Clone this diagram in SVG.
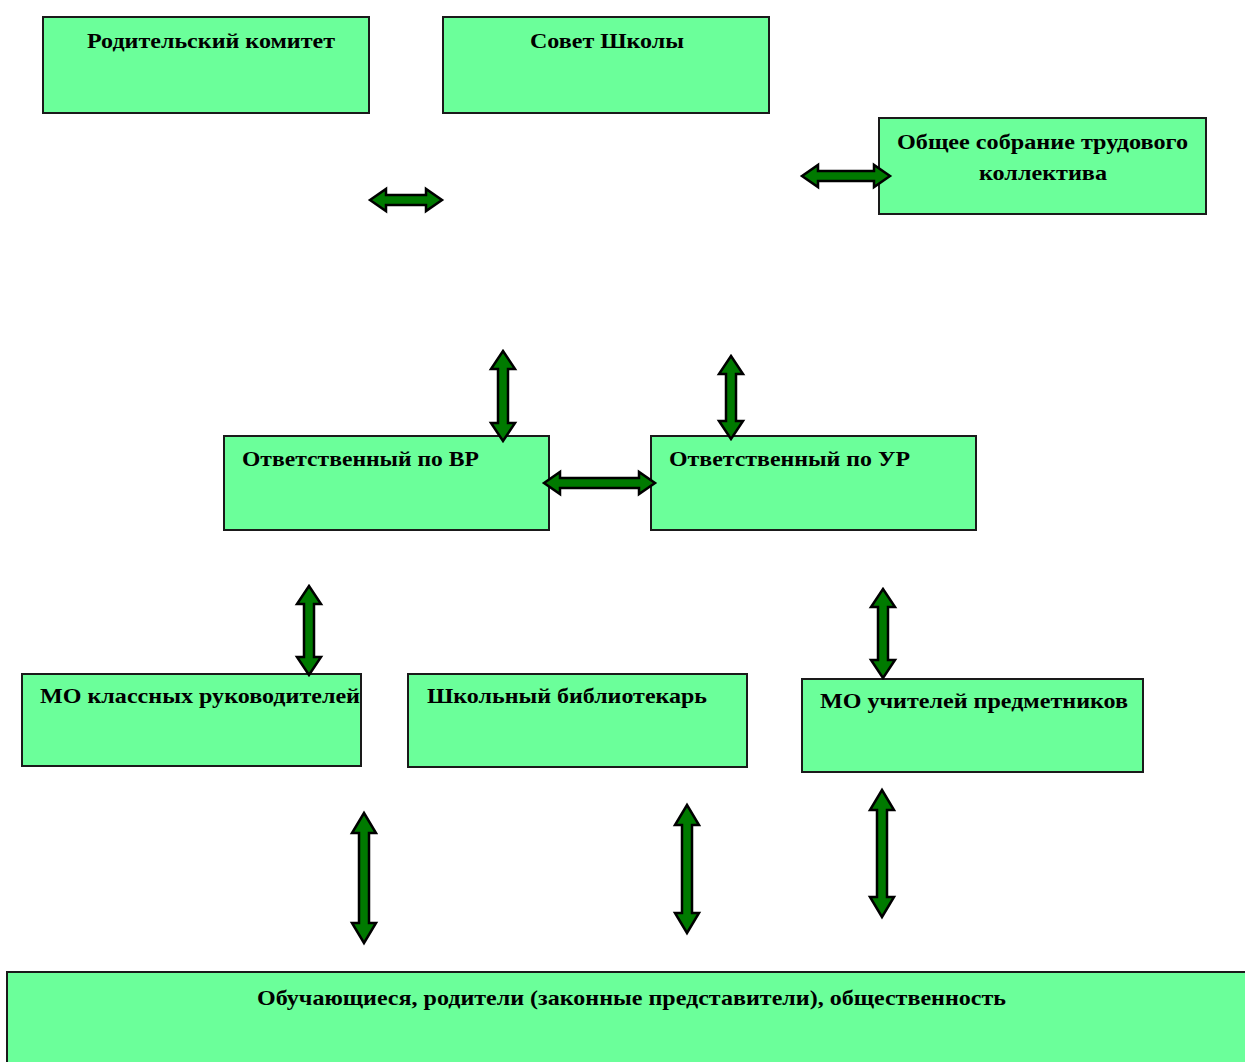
<svg xmlns="http://www.w3.org/2000/svg" width="1245" height="1062" viewBox="0 0 1245 1062">
<style>
.box{fill:#6BFF9A;stroke:#1a1a1a;stroke-width:2}
.t{font-family:"Liberation Serif","Times New Roman",serif;font-weight:bold;font-size:21px;fill:#000}
.c{text-anchor:middle}
.ar{fill:#007A00;stroke:#000;stroke-width:2.5;stroke-linejoin:miter}
</style>
<rect width="1245" height="1062" fill="#fff"/>
<g id="node-roditelsky">
<rect class="box" x="43" y="17" width="326" height="96"/>
<text class="t" x="87" y="48" textLength="248" lengthAdjust="spacingAndGlyphs">Родительский комитет</text>
</g>
<g id="node-sovet">
<rect class="box" x="443" y="17" width="326" height="96"/>
<text class="t" x="530" y="48" textLength="154" lengthAdjust="spacingAndGlyphs">Совет Школы</text>
</g>
<g id="node-sobranie">
<rect class="box" x="879" y="118" width="327" height="96"/>
<text class="t" x="897" y="149" textLength="291" lengthAdjust="spacingAndGlyphs">Общее собрание трудового</text>
<text class="t" x="979" y="180" textLength="128" lengthAdjust="spacingAndGlyphs">коллектива</text>
</g>
<g id="node-vr">
<rect class="box" x="224" y="436" width="325" height="94"/>
<text class="t" x="242" y="466" textLength="237" lengthAdjust="spacingAndGlyphs">Ответственный по ВР</text>
</g>
<g id="node-ur">
<rect class="box" x="651" y="436" width="325" height="94"/>
<text class="t" x="669" y="466" textLength="241" lengthAdjust="spacingAndGlyphs">Ответственный по УР</text>
</g>
<g id="node-mo-kl">
<rect class="box" x="22" y="674" width="339" height="92"/>
<text class="t" x="40" y="703" textLength="320" lengthAdjust="spacingAndGlyphs">МО классных руководителей</text>
</g>
<g id="node-bibl">
<rect class="box" x="408" y="674" width="339" height="93"/>
<text class="t" x="427" y="703" textLength="280" lengthAdjust="spacingAndGlyphs">Школьный библиотекарь</text>
</g>
<g id="node-mo-uch">
<rect class="box" x="802" y="679" width="341" height="93"/>
<text class="t" x="820" y="708" textLength="308" lengthAdjust="spacingAndGlyphs">МО учителей предметников</text>
</g>
<g id="node-obuch">
<rect class="box" x="7" y="972" width="1245" height="100"/>
<text class="t" x="257" y="1005" textLength="749" lengthAdjust="spacingAndGlyphs">Обучающиеся, родители (законные представители), общественность</text>
</g>
<g id="connectors">
<path class="ar" d="M370,200 L386,189 L386,195 L426,195 L426,189 L442,200 L426,211 L426,205 L386,205 L386,211 Z"/>
<path class="ar" d="M802,176 L818,165 L818,171 L874,171 L874,165 L890,176 L874,187 L874,181 L818,181 L818,187 Z"/>
<path class="ar" d="M544,483 L560,472 L560,478 L639,478 L639,472 L655,483 L639,494 L639,488 L560,488 L560,494 Z"/>
<path class="ar" d="M503,351 L515,369 L508,369 L508,423 L515,423 L503,441 L491,423 L498,423 L498,369 L491,369 Z"/>
<path class="ar" d="M731,356 L743,374 L736,374 L736,421 L743,421 L731,439 L719,421 L726,421 L726,374 L719,374 Z"/>
<path class="ar" d="M309,586 L321,604 L314,604 L314,657 L321,657 L309,675 L297,657 L304,657 L304,604 L297,604 Z"/>
<path class="ar" d="M883,589 L895,607 L888,607 L888,660 L895,660 L883,678 L871,660 L878,660 L878,607 L871,607 Z"/>
<path class="ar" d="M364,813 L376,833 L369,833 L369,923 L376,923 L364,943 L352,923 L359,923 L359,833 L352,833 Z"/>
<path class="ar" d="M687,805 L699,825 L692,825 L692,913 L699,913 L687,933 L675,913 L682,913 L682,825 L675,825 Z"/>
<path class="ar" d="M882,790 L894,810 L887,810 L887,897 L894,897 L882,917 L870,897 L877,897 L877,810 L870,810 Z"/>
</g>
</svg>
